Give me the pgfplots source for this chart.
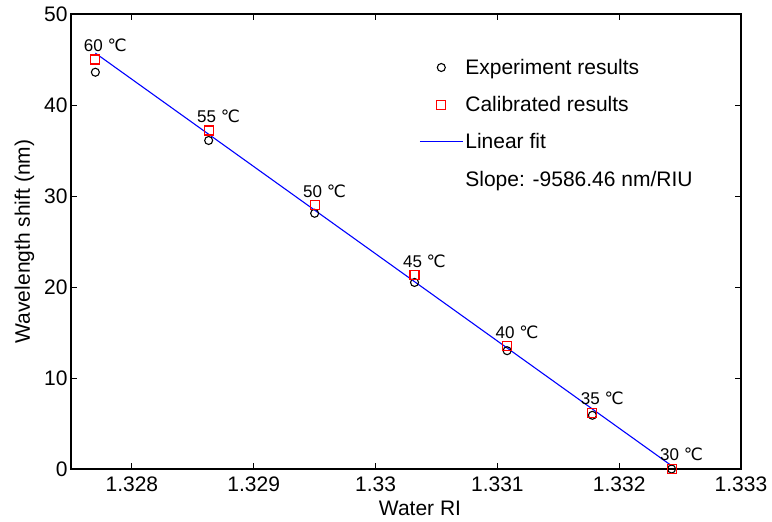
\documentclass[border=0pt]{standalone}
\usepackage{pgfplots}
\pgfplotsset{compat=1.18}
\usepackage{fontspec}
\setmainfont{Liberation Sans}
\newfontfamily\dejavu{DejaVu Sans}
\newcommand\degC{{\dejavu ℃}}
\pgfplotsset{
  mymarkleg/.style={legend image code/.code={\draw[mark repeat=2,mark phase=2,##1] plot coordinates {(0pt,0pt)(21.5pt,0pt)(43pt,0pt)};}},
  mylineleg/.style={legend image code/.code={\draw[##1] (0pt,0pt) -- (43pt,0pt);}},
}
\pgfplotstableread{
x y lab
1.32770 45.0 60
1.32863 37.2 55
1.32950 29.0 50
1.33032 21.3 45
1.33108 13.5 40
1.33178 6.2 35
1.33243 0.0 30
}\calib
\pgfplotstableread{
x y
1.32770 43.6
1.32863 36.1
1.32950 28.1
1.33032 20.5
1.33108 13.0
1.33178 5.9
1.33243 0.0
}\expt
\begin{document}
\begin{tikzpicture}
\begin{axis}[
  scale only axis, width=670pt, height=455pt,
  xmin=1.3275, xmax=1.333, ymin=0, ymax=50,
  xtick={1.328,1.329,1.33,1.331,1.332,1.333},
  xticklabels={1.328,1.329,1.33,1.331,1.332,1.333},
  ytick={0,10,20,30,40,50},
  tick align=inside, major tick length=6pt,
  axis line style={line width=1.1pt},
  tick style={line width=0.9pt, black},
  ticklabel style={font=\fontsize{21}{24}\selectfont},
  xticklabel style={yshift=-4pt},
  /pgf/number format/assume math mode=true,
  xlabel={Water RI}, ylabel={Wavelength shift (nm)},
  label style={font=\fontsize{21}{24}\selectfont},
  xlabel style={yshift=-3pt, xshift=14pt},
  ylabel style={yshift=3pt},
  legend cell align=left,
  legend style={draw=none, fill=none, at={(0.515,0.91)}, anchor=north west,
    font=\fontsize{21}{24}\selectfont, row sep=16.5pt},
]
\addplot[only marks, mark=o, mark size=4pt, line width=1.1pt, black, mymarkleg]
  table[x=x,y=y] {\expt};
\addlegendentry{Experiment results}
\addplot[only marks, mark=square, mark size=4.5pt, line width=1.1pt, red, mymarkleg,
  nodes near coords={\pgfplotspointmeta\ \degC},
  point meta=explicit symbolic,
  nodes near coords style={black, anchor=base west, xshift=-12pt, yshift=8pt, inner sep=0pt, font=\fontsize{17}{20}\selectfont}]
  table[x=x,y=y,meta=lab] {\calib};
\addlegendentry{Calibrated results}
\addplot[blue, line width=1.1pt, no marks, mylineleg]
  coordinates {(1.32770,45.7) (1.33243,0.36)};
\addlegendentry{Linear fit}
\addlegendimage{empty legend}
\addlegendentry{Slope: -9586.46 nm/RIU}
\end{axis}
\path[use as bounding box] ([xshift=-71pt,yshift=-53pt]current axis.south west) rectangle ([xshift=31pt,yshift=14pt]current axis.north east);
\end{tikzpicture}
\end{document}
